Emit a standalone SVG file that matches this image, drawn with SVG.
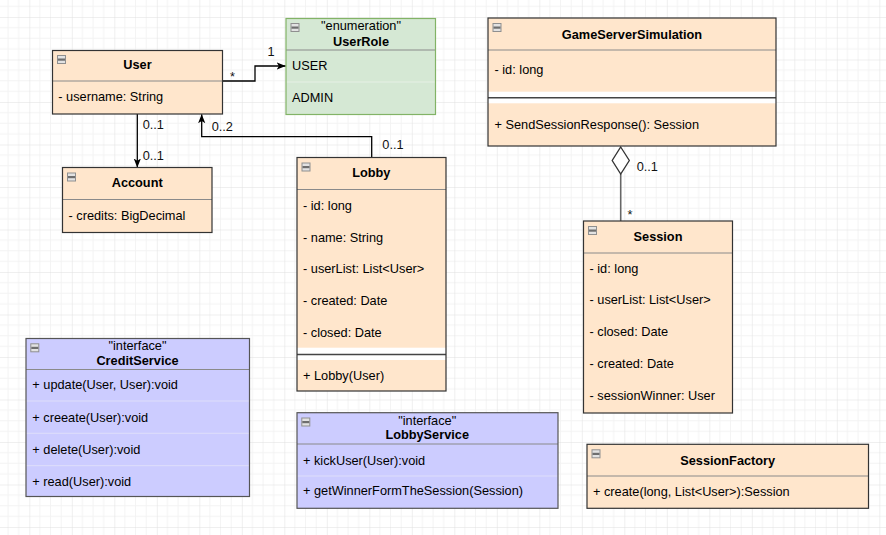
<svg xmlns="http://www.w3.org/2000/svg" xmlns:xlink="http://www.w3.org/1999/xlink" width="886" height="535" viewBox="0 0 886 535">
<style>
.t{font-family:"Liberation Sans",Arial,Helvetica,sans-serif;font-size:12.75px;fill:#000}
.b{font-weight:bold}
.c{text-anchor:middle}
.org{fill:#ffe6cc}
.grn{fill:#d5e8d4}
.pur{fill:#ccccff}
.brd{fill:none;stroke:#333;stroke-width:1.2}
.brdg{fill:none;stroke:#82b366;stroke-width:1.2}
.brdp{fill:none;stroke:#555;stroke-width:1.2}
.div{stroke:#8a8a8a;stroke-width:1}
.fg{stroke:#e6f0e5;stroke-width:1}
.fp{stroke:#dedefa;stroke-width:1}
.band{fill:#fff}
.sep{stroke:#444;stroke-width:1.5}
.con{fill:none;stroke:#000;stroke-width:1.3}
.agg{fill:none;stroke:#666;stroke-width:1.6}
.lbl{font-family:"Liberation Sans",Arial,Helvetica,sans-serif;font-size:12.75px;fill:#111}
</style>
<defs>
<pattern id="grid" patternUnits="userSpaceOnUse" x="29.3" y="17" width="42.5" height="42.5">
<path d="M10.625 0V42.5M21.25 0V42.5M31.875 0V42.5M0 10.625H42.5M0 21.25H42.5M0 31.875H42.5" stroke="#f3f3f3" stroke-width="1" fill="none"/>
<path d="M0 0V42.5M0 0H42.5" stroke="#e0e0e0" stroke-width="1" fill="none"/>
</pattern>
<symbol id="icon" viewBox="0 0 9 9" width="9" height="9" overflow="visible">
<rect x="0.5" y="0.5" width="8" height="8" fill="#e2e2e2" stroke="#8f8f8f" stroke-width="1"/>
<rect x="1" y="3.5" width="7" height="2.2" fill="#6e6e6e"/>
</symbol>
<marker id="arr" markerUnits="userSpaceOnUse" markerWidth="12" markerHeight="12" refX="9" refY="3.6" orient="auto">
<path d="M0,0 L9,3.6 L0,7.2 L2.2,3.6 Z" fill="#000"/>
</marker>
</defs>
<rect width="886" height="535" fill="#fff"/>
<rect width="886" height="535" fill="url(#grid)"/>

<g id="connectors">
<polyline class="con" points="222.7,81 255,81 255,66 285.7,66" marker-end="url(#arr)"/>
<text class="lbl" x="230" y="81">*</text>
<text class="lbl" x="267.5" y="55.7">1</text>
<line class="con" x1="137.3" y1="114" x2="137.3" y2="167.5" marker-end="url(#arr)"/>
<text class="lbl" x="142.7" y="129">0..1</text>
<text class="lbl" x="142.7" y="160">0..1</text>
<polyline class="con" points="371.7,157.5 371.7,136.7 201.7,136.7 201.7,114.2" marker-end="url(#arr)"/>
<text class="lbl" x="211.7" y="130.5">0..2</text>
<text class="lbl" x="382.3" y="149.3">0..1</text>
<line class="agg" x1="620.7" y1="174" x2="620.7" y2="221"/>
<polygon points="620.7,147 629.3,160.5 620.7,174 612.2,160.5" fill="#fff" stroke="#333" stroke-width="1.3"/>
<text class="lbl" x="636.7" y="170.7">0..1</text>
<text class="lbl" x="627.5" y="219">*</text>
</g>

<g id="User">
<rect class="org" x="52.5" y="50.5" width="170" height="63.5"/>
<line class="div" x1="52.5" y1="81" x2="222.5" y2="81"/>
<rect class="brd" x="52.5" y="50.5" width="170" height="63.5"/>
<use xlink:href="#icon" x="57" y="55"/>
<text class="t b c" x="137.5" y="69">User</text>
<text class="t" x="58.3" y="101">- username: String</text>
</g>

<g id="UserRole">
<rect class="grn" x="286" y="18.5" width="149.5" height="96"/>
<line class="div" x1="286" y1="50" x2="435.5" y2="50" stroke="#a7c9a5"/>
<line class="fg" x1="286" y1="82" x2="435.5" y2="82"/>
<rect class="brdg" x="286" y="18.5" width="149.5" height="96"/>
<use xlink:href="#icon" x="290.5" y="23"/>
<text class="t c" x="361" y="30">"enumeration"</text>
<text class="t b c" x="361" y="46">UserRole</text>
<text class="t" x="292" y="69.5">USER</text>
<text class="t" x="292" y="102.3">ADMIN</text>
</g>

<g id="GameServerSimulation">
<rect class="org" x="488" y="18" width="288" height="128"/>
<line class="div" x1="488" y1="50" x2="776" y2="50"/>
<rect class="band" x="488" y="91.7" width="288" height="11.6"/>
<line class="sep" x1="488" y1="97.8" x2="776" y2="97.8"/>
<rect class="brd" x="488" y="18" width="288" height="128"/>
<use xlink:href="#icon" x="492.5" y="23"/>
<text class="t b c" x="632" y="39">GameServerSimulation</text>
<text class="t" x="494.5" y="74.3">- id: long</text>
<text class="t" x="494.5" y="128.7">+ SendSessionResponse(): Session</text>
</g>

<g id="Account">
<rect class="org" x="62.5" y="167.5" width="149.5" height="65"/>
<line class="div" x1="62.5" y1="199.5" x2="212" y2="199.5"/>
<rect class="brd" x="62.5" y="167.5" width="149.5" height="65" stroke="#555"/>
<use xlink:href="#icon" x="67" y="172.5"/>
<text class="t b c" x="137.2" y="186.7">Account</text>
<text class="t" x="68.5" y="220">- credits: BigDecimal</text>
</g>

<g id="Lobby">
<rect class="org" x="297" y="157.5" width="149" height="233.5"/>
<line class="div" x1="297" y1="189.5" x2="446" y2="189.5"/>
<rect class="band" x="297" y="347.7" width="149" height="12.3"/>
<line class="sep" x1="297" y1="354.5" x2="446" y2="354.5"/>
<rect class="brd" x="297" y="157.5" width="149" height="233.5"/>
<use xlink:href="#icon" x="301.5" y="162.5"/>
<text class="t b c" x="371.3" y="176.7">Lobby</text>
<text class="t" x="303" y="210">- id: long</text>
<text class="t" x="303" y="241.7">- name: String</text>
<text class="t" x="303" y="273.4">- userList: List&lt;User&gt;</text>
<text class="t" x="303" y="305">- created: Date</text>
<text class="t" x="303" y="336.8">- closed: Date</text>
<text class="t" x="303" y="380">+ Lobby(User)</text>
</g>

<g id="Session">
<rect class="org" x="583.5" y="221" width="149" height="192"/>
<line class="div" x1="583.5" y1="253" x2="732.5" y2="253"/>
<rect class="brd" x="583.5" y="221" width="149" height="192"/>
<use xlink:href="#icon" x="588" y="226"/>
<text class="t b c" x="658" y="240.7">Session</text>
<text class="t" x="589.5" y="272.5">- id: long</text>
<text class="t" x="589.5" y="304.4">- userList: List&lt;User&gt;</text>
<text class="t" x="589.5" y="336.3">- closed: Date</text>
<text class="t" x="589.5" y="368.2">- created: Date</text>
<text class="t" x="589.5" y="400">- sessionWinner: User</text>
</g>

<g id="CreditService">
<rect class="pur" x="26" y="338.5" width="223.5" height="158"/>
<line class="div" x1="26" y1="369.5" x2="249.5" y2="369.5" stroke="#777"/>
<line class="fp" x1="26" y1="401" x2="249.5" y2="401"/>
<line class="fp" x1="26" y1="433.3" x2="249.5" y2="433.3"/>
<line class="fp" x1="26" y1="465.7" x2="249.5" y2="465.7"/>
<rect class="brdp" x="26" y="338.5" width="223.5" height="158"/>
<use xlink:href="#icon" x="30.3" y="343.3"/>
<text class="t c" x="137.5" y="350">"interface"</text>
<text class="t b c" x="137.5" y="365">CreditService</text>
<text class="t" x="32.3" y="389.3">+ update(User, User):void</text>
<text class="t" x="32.3" y="421.7">+ creeate(User):void</text>
<text class="t" x="32.3" y="454">+ delete(User):void</text>
<text class="t" x="32.3" y="485.7">+ read(User):void</text>
</g>

<g id="LobbyService">
<rect class="pur" x="297" y="412.7" width="261" height="95.6"/>
<line class="div" x1="297" y1="444" x2="558" y2="444" stroke="#777"/>
<line class="fp" x1="297" y1="476" x2="558" y2="476"/>
<rect class="brdp" x="297" y="412.7" width="261" height="95.6"/>
<use xlink:href="#icon" x="301.3" y="417.5"/>
<text class="t c" x="427.2" y="425">"interface"</text>
<text class="t b c" x="427.2" y="439.3">LobbyService</text>
<text class="t" x="303" y="465">+ kickUser(User):void</text>
<text class="t" x="303" y="495">+ getWinnerFormTheSession(Session)</text>
</g>

<g id="SessionFactory">
<rect class="org" x="587" y="444.3" width="281.5" height="64"/>
<line class="div" x1="587" y1="476" x2="868.5" y2="476"/>
<rect class="brd" x="587" y="444.3" width="281.5" height="64"/>
<use xlink:href="#icon" x="591.5" y="449.3"/>
<text class="t b c" x="727.7" y="465">SessionFactory</text>
<text class="t" x="593" y="495.7">+ create(long, List&lt;User&gt;):Session</text>
</g>
</svg>
